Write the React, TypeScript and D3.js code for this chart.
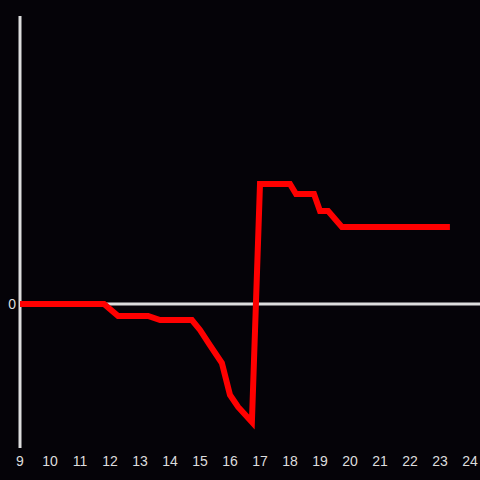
import React from "react";
import * as d3 from "d3";

const xValues = [9, 11.8, 12.27, 13.27, 13.67, 14.73, 15, 15.33, 15.73, 16, 16.27, 16.73, 17, 18, 18.2, 18.8, 19, 19.27, 19.73, 23.33];
const yValues = [0, 0, -0.083, -0.083, -0.111, -0.111, -0.18, -0.285, -0.41, -0.632, -0.715, -0.82, 0.833, 0.833, 0.764, 0.764, 0.646, 0.646, 0.535, 0.535];
const xTicks = [9, 10, 11, 12, 13, 14, 15, 16, 17, 18, 19, 20, 21, 22, 23, 24];
const yTicks = [0];

const W = 480;
const H = 480;

export default function App() {
  const x = d3.scaleLinear().domain([9, 24]).range([20, 470]);
  const y = d3.scaleLinear().domain([-1, 2]).range([448, 16]);
  const pts: [number, number][] = xValues.map((v, i) => [v, yValues[i]]);
  const line = d3
    .line<[number, number]>()
    .x((d) => x(d[0]))
    .y((d) => y(d[1]));
  const font = "'Liberation Sans', Arial, sans-serif";
  return (
    <svg
      width={W}
      height={H}
      style={{ position: "absolute", left: 0, top: 0, display: "block" }}
    >
      <rect x={0} y={0} width={W} height={H} fill="#050308" />
      <line x1={20} x2={20} y1={16} y2={448} stroke="#dddddd" strokeWidth={3} />
      {yTicks.map((t) => (
        <g key={t}>
          <line x1={20} x2={W} y1={y(t)} y2={y(t)} stroke="#dddddd" strokeWidth={3} />
          <text
            x={16}
            y={y(t)}
            textAnchor="end"
            dominantBaseline="central"
            fill="#dddddd"
            fontSize={14}
            fontFamily={font}
          >
            {t}
          </text>
        </g>
      ))}
      {xTicks.map((t) => (
        <text
          key={t}
          x={x(t)}
          y={461}
          textAnchor="middle"
          dominantBaseline="central"
          fill="#dddddd"
          fontSize={14}
          fontFamily={font}
        >
          {t}
        </text>
      ))}
      <path
        d={line(pts) || ""}
        fill="none"
        stroke="#ff0000"
        strokeWidth={6}
        strokeLinejoin="miter"
        strokeLinecap="butt"
      />
    </svg>
  );
}
